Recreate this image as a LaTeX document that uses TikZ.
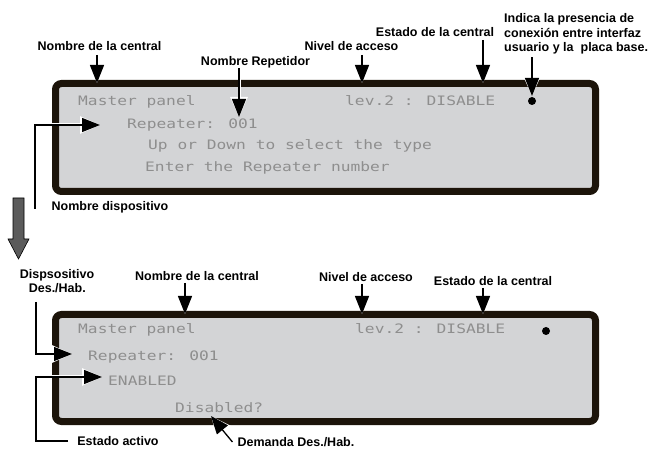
\documentclass[tikz,border=0pt]{standalone}
\usepackage{fontspec}
\setmainfont{Liberation Sans}
\newfontfamily\lcdfont[FakeStretch=1.25]{DejaVu Sans Mono}
\usetikzlibrary{arrows.meta,positioning}
\definecolor{lcdgray}{HTML}{D3D4D6}
\definecolor{lcdtext}{HTML}{8E8E8E}
\definecolor{frame}{HTML}{1C140A}
\definecolor{bigarrow}{HTML}{5B5B5B}

\begin{document}
\begin{tikzpicture}[x=1pt, y=-1pt,
  font=\fontsize{12.5}{14.5}\selectfont\bfseries,
  panel/.style={draw=frame, line width=7pt, rounded corners=6pt, fill=lcdgray, minimum width=540pt, minimum height=108pt, inner sep=0pt},
  lcd/.style={anchor=base west, inner sep=0pt, text=lcdtext, font=\fontsize{13}{15}\selectfont\lcdfont},
  lbl/.style={inner sep=0pt, align=left},
  ptr/.style={-{Triangle[length=18pt 0 0,width=14pt 0 0]}, line width=1.3pt, preaction={draw=white, line width=3pt, -{Triangle[length=20pt 0 0,width=17pt 0 0]}}}]
\useasboundingbox (0,0) rectangle (654,449);

% upper display
\node[panel] (toppanel) at (325.5,137.5) {};
\node[lcd] (tmaster) at (78,106) {Master panel};
\node[lcd] (tlev) at (345,106) {lev.2 : DISABLE};
\node[lcd] (trep) at (127,129) {Repeater: 001};
\node[lcd] (tup) at (148,150) {Up or Down to select the type};
\node[lcd] (tenter) at (145,172) {Enter the Repeater number};
\node[circle, fill=black, inner sep=0pt, minimum size=8pt] (tdot) at (532,101) {};

\node[lbl] (tcentral) at (99.5,46) {Nombre de la central};
\node[lbl] (trepname) at (255.5,62) {Nombre Repetidor};
\node[lbl] (tlevel) at (351.5,46) {Nivel de acceso};
\node[lbl] (tstate) at (435,32) {Estado de la central};
\node[lbl, anchor=north west] (tlink) at (504,13.4) {Indica la presencia de\\conexión entre interfaz\\usuario y la~ placa base.};
\node[lbl] (tdevice) at (110,207) {Nombre dispositivo};

\coordinate (tcentralTip) at (97,83);
\coordinate (trepTip) at (239,117);
\coordinate (tlevelTip) at (362,83);
\coordinate (tstateTip) at (483,83);
\coordinate (tlinkTip) at (532,96);
\coordinate (tdevTail) at (35,209);
\coordinate (tdevTip) at (100,125);

\draw[ptr] (tcentral.south -| tcentralTip) ++(0,4) -- (tcentralTip);
\draw[ptr] (trepname.south -| trepTip) -- (trepTip);
\draw[ptr] (tlevel.south -| tlevelTip) ++(0,4) -- (tlevelTip);
\draw[ptr] (tstate.south -| tstateTip) ++(0,3) -- (tstateTip);
\draw[ptr] (tlink.south -| tlinkTip) ++(0,3) -- (tlinkTip);
\draw[ptr] (tdevTail) |- (tdevTip);

% flow to the second display
\draw[fill=bigarrow, draw=black, line width=0.6pt] (13,198) -- (24,198) -- (24,239) -- (29,239) -- (18.5,259) -- (8,239) -- (13,239) -- cycle;

% lower display
\node[panel, minimum height=107pt] (lowpanel) at (325.5,368) {};
\node[lcd] (lmaster) at (78,334) {Master panel};
\node[lcd] (llev) at (355,334) {lev.2 : DISABLE};
\node[lcd] (lrep) at (88,360) {Repeater: 001};
\node[lcd] (lenabled) at (108,385) {ENABLED};
\node[lcd] (ldisabled) at (175,413) {Disabled?};
\node[circle, fill=black, inner sep=0pt, minimum size=8pt] (ldot) at (546,331) {};

\node[lbl] (ldisp) at (57,281) {Dispsositivo\\\hspace{9pt}Des./Hab.};
\node[lbl] (lcentral) at (197,276) {Nombre de la central};
\node[lbl] (llevel) at (366,277) {Nivel de acceso};
\node[lbl] (lstate) at (493,281) {Estado de la central};
\node[lbl] (lactive) at (118,441) {Estado activo};
\node[lbl] (ldemand) at (296,442) {Demanda Des./Hab.};

\coordinate (lcentralTip) at (185,314);
\coordinate (llevelTip) at (362,314);
\coordinate (lstateTip) at (483,314);
\coordinate (ldispTail) at (36,302);
\coordinate (ldispTip) at (72,354);
\coordinate (lactCorner) at (36,441);
\coordinate (lenTip) at (102,377);
\coordinate (ldemTip) at (211,416);

\draw[ptr] (lcentral.south -| lcentralTip) ++(0,2) -- (lcentralTip);
\draw[ptr] (llevel.south -| llevelTip) ++(0,2) -- (llevelTip);
\draw[ptr] (lstate.south -| lstateTip) ++(0,2) -- (lstateTip);
\draw[ptr] (ldispTail) |- (ldispTip);
\draw[ptr] ([xshift=-9pt]lactive.west) -- (lactCorner) |- (lenTip);
\draw[ptr] ([xshift=-5pt]ldemand.west) -- (ldemTip);
\end{tikzpicture}
\end{document}
